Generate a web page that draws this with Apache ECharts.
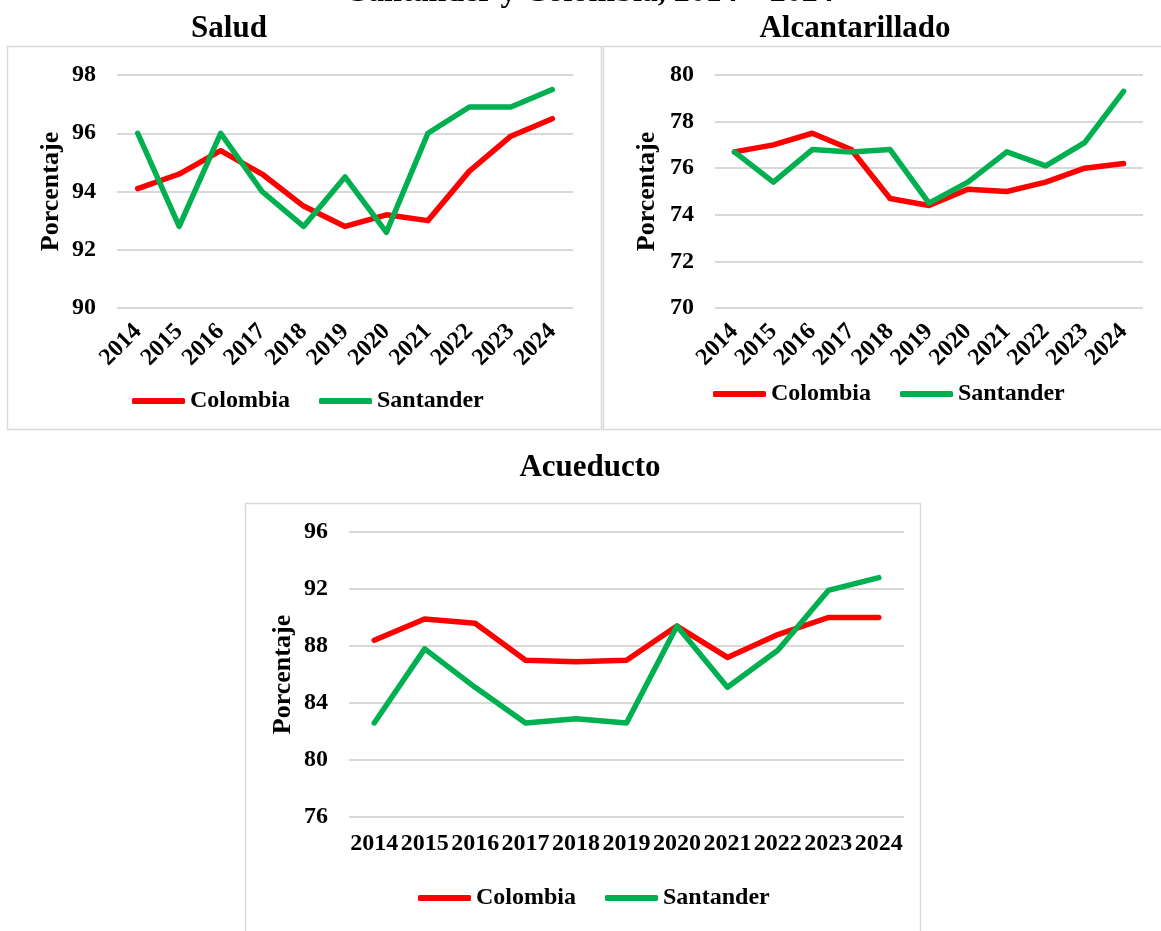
<!DOCTYPE html>
<html>
<head>
<meta charset="utf-8">
<script src="https://cdn.jsdelivr.net/npm/echarts@6/dist/echarts.min.js"></script>
<style>
  html, body { margin: 0; padding: 0; background: #ffffff; }
  #chart { width: 1161px; height: 931px; }
</style>
</head>
<body>
<div id="chart"></div>
<script>
// Years shown on every panel
const years = ['2014', '2015', '2016', '2017', '2018', '2019', '2020', '2021', '2022', '2023', '2024'];

// Salud (%)
const saludColombia  = [94.1, 94.6, 95.4, 94.6, 93.5, 92.8, 93.2, 93.0, 94.7, 95.9, 96.5];
const saludSantander = [96.0, 92.8, 96.0, 94.0, 92.8, 94.5, 92.6, 96.0, 96.9, 96.9, 97.5];

// Alcantarillado (%)
const alcColombia  = [76.7, 77.0, 77.5, 76.8, 74.7, 74.4, 75.1, 75.0, 75.4, 76.0, 76.2];
const alcSantander = [76.7, 75.4, 76.8, 76.7, 76.8, 74.5, 75.4, 76.7, 76.1, 77.1, 79.3];

// Acueducto (%)
const acuColombia  = [88.4, 89.9, 89.6, 87.0, 86.9, 87.0, 89.4, 87.2, 88.8, 90.0, 90.0];
const acuSantander = [82.6, 87.8, 85.1, 82.6, 82.9, 82.6, 89.4, 85.1, 87.7, 91.9, 92.8];

// Panel titles and axis settings
const panelTitles = ['Salud', 'Alcantarillado', 'Acueducto'];
const mainTitle = 'Santander y Colombia, 2014 \u2013 2024';
const yName = 'Porcentaje';
const seriesNames = ['Colombia', 'Santander'];
const yRanges = [
  { min: 90, max: 98, interval: 2 },
  { min: 70, max: 80, interval: 2 },
  { min: 76, max: 96, interval: 4 }
];

const FONT = '"Liberation Serif", "Times New Roman", serif';
const RED = '#ff0000';
const GREEN = '#00b050';
const GRID_GRAY = '#d9d9d9';

const grids = [
  { left: 117, top: 75, width: 456, height: 233 },
  { left: 715, top: 75, width: 428, height: 233 },
  { left: 349, top: 532, width: 555, height: 285 }
];

function xAxisFor(i, rotated) {
  return {
    type: 'category',
    gridIndex: i,
    data: years,
    boundaryGap: true,
    axisLine: { show: false },
    axisTick: { show: false },
    axisLabel: {
      rotate: rotated ? 45 : 0,
      margin: rotated ? 20 : 15,
      fontFamily: FONT,
      fontWeight: 'bold',
      fontSize: 24,
      color: '#000000',
      interval: 0
    }
  };
}

function yAxisFor(i, nameGap) {
  return {
    type: 'value',
    gridIndex: i,
    min: yRanges[i].min,
    max: yRanges[i].max,
    interval: yRanges[i].interval,
    name: yName,
    nameLocation: 'middle',
    nameRotate: 90,
    nameGap: nameGap,
    nameTextStyle: { fontFamily: FONT, fontWeight: 'bold', fontSize: 26, color: '#000000' },
    axisLine: { show: false },
    axisTick: { show: false },
    axisLabel: { margin: 21, fontFamily: FONT, fontWeight: 'bold', fontSize: 24, color: '#000000' },
    splitLine: { show: true, lineStyle: { color: GRID_GRAY, width: 2 } }
  };
}

function lineSeries(name, data, color, i) {
  return {
    name: name,
    type: 'line',
    xAxisIndex: i,
    yAxisIndex: i,
    data: data,
    symbol: 'none',
    showSymbol: false,
    animation: false,
    lineStyle: { color: color, width: 5.5, cap: 'round', join: 'round' },
    itemStyle: { color: color }
  };
}

function legendFor(left, top) {
  return {
    data: seriesNames,
    left: left,
    top: top,
    orient: 'horizontal',
    icon: 'roundRect',
    itemWidth: 53,
    itemHeight: 6,
    itemGap: 29,
    selectedMode: false,
    textStyle: { fontFamily: FONT, fontWeight: 'bold', fontSize: 24, color: '#000000' }
  };
}

const titleStyle = { fontFamily: FONT, fontWeight: 'bold', fontSize: 31, color: '#000000' };

const option = {
  backgroundColor: '#ffffff',
  animation: false,
  title: [
    { text: panelTitles[0], left: 229, top: 13, textAlign: 'center', textStyle: titleStyle, padding: 0 },
    { text: panelTitles[1], left: 855, top: 13, textAlign: 'center', textStyle: titleStyle, padding: 0 },
    { text: panelTitles[2], left: 590, top: 452, textAlign: 'center', textStyle: titleStyle, padding: 0 }
  ],
  graphic: [
    {
      type: 'text', z: 10,
      x: 592, y: 9,
      style: { text: mainTitle, fontFamily: FONT, fontWeight: 'bold', fontSize: 32, fill: '#000000', textAlign: 'center', textVerticalAlign: 'bottom' }
    },
    { type: 'rect', shape: { x: 7.5, y: 46.5, width: 594, height: 383 }, style: { fill: 'none', stroke: GRID_GRAY, lineWidth: 1.5 }, z: -1 },
    { type: 'rect', shape: { x: 603.5, y: 46.5, width: 580, height: 383 }, style: { fill: 'none', stroke: GRID_GRAY, lineWidth: 1.5 }, z: -1 },
    { type: 'rect', shape: { x: 245.5, y: 503.5, width: 675, height: 460 }, style: { fill: 'none', stroke: GRID_GRAY, lineWidth: 1.5 }, z: -1 }
  ],
  legend: [
    legendFor(127, 384),
    legendFor(708, 377),
    legendFor(413, 881)
  ],
  grid: grids,
  xAxis: [xAxisFor(0, true), xAxisFor(1, true), xAxisFor(2, false)],
  yAxis: [yAxisFor(0, 53), yAxisFor(1, 55), yAxisFor(2, 53)],
  series: [
    lineSeries(seriesNames[0], saludColombia, RED, 0),
    lineSeries(seriesNames[1], saludSantander, GREEN, 0),
    lineSeries(seriesNames[0], alcColombia, RED, 1),
    lineSeries(seriesNames[1], alcSantander, GREEN, 1),
    lineSeries(seriesNames[0], acuColombia, RED, 2),
    lineSeries(seriesNames[1], acuSantander, GREEN, 2)
  ]
};

const chart = echarts.init(document.getElementById('chart'), null, { renderer: 'canvas' });
chart.setOption(option);
</script>
</body>
</html>
